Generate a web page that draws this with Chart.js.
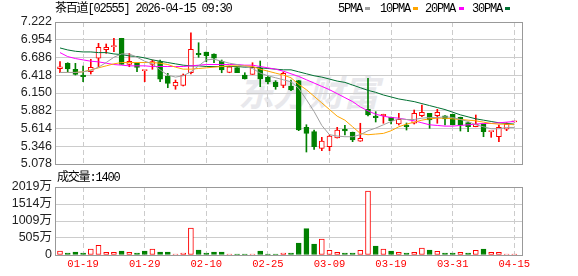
<!DOCTYPE html>
<html><head><meta charset="utf-8">
<script src="https://cdn.jsdelivr.net/npm/chart.js@4.4.1/dist/chart.umd.min.js"></script>
<style>
html,body{margin:0;padding:0;background:#fff;width:578px;height:276px;overflow:hidden;position:relative;}
canvas{position:absolute;left:0;top:0;}
.t{position:absolute;font-family:"Liberation Mono","Noto Sans CJK SC",monospace;font-size:12px;line-height:12px;letter-spacing:-1.2px;color:#000;white-space:nowrap;}
.sq{position:absolute;width:5px;height:3px;}
#wm{position:absolute;left:238px;top:70px;font-family:"Noto Sans CJK SC";font-weight:bold;font-size:36px;line-height:40px;color:#e8e8ec;font-style:italic;letter-spacing:-1px;white-space:nowrap;}
</style></head><body>
<div id="wm">东方财富</div>
<canvas id="p" width="578" height="276"></canvas>
<canvas id="v" width="578" height="276"></canvas>
<div class="t" style="left:55px;top:3px">茶百道[02555] 2026-04-15 09:30</div>
<div class="t" style="left:338px;top:3px">5PMA</div><div class="sq" style="left:365px;top:7px;background:#a0a0a0"></div>
<div class="t" style="left:380px;top:3px">10PMA</div><div class="sq" style="left:413px;top:7px;background:#ffa500"></div>
<div class="t" style="left:425px;top:3px">20PMA</div><div class="sq" style="left:459px;top:7px;background:#ff00ff"></div>
<div class="t" style="left:472px;top:3px">30PMA</div><div class="sq" style="left:505px;top:7px;background:#007032"></div>
<div class="t" style="left:57px;top:172px">成交量:1400</div>
<script>
const dates = ['01-14','01-15','01-16','01-19','01-20','01-21','01-22','01-23','01-26','01-27',
'01-28','01-29','01-30','02-02','02-03','02-04','02-05','02-06','02-09','02-10',
'02-11','02-12','02-13','02-16','02-20','02-23','02-24','02-25','02-26','02-27',
'03-02','03-03','03-04','03-05','03-06','03-09','03-10','03-11','03-12','03-13',
'03-16','03-17','03-18','03-19','03-20','03-23','03-24','03-25','03-26','03-27',
'03-30','03-31','04-01','04-02','04-08','04-09','04-10','04-13','04-14','04-15'];
const gridIdx = [3,11,19,27,35,43,51,59];
const priceTicks = [7.222,6.954,6.686,6.418,6.150,5.882,5.614,5.346,5.078];
const priceTickLabels = ['7.222','6.954','6.686','6.418','6.150','5.882','5.614','5.346','5.078'];
const volTicks = [2019,1514,1009,505,0];
const volTickLabels = ['2019万','1514万','1009万','505万','0'];

const open  = [6.517,6.598,6.508,6.422,6.472,6.674,6.804,6.849,6.976,6.583,
6.598,6.487,6.583,6.623,6.407,6.256,6.266,6.456,6.749,6.769,
6.739,6.629,6.462,6.532,6.422,6.432,6.523,6.387,6.316,6.266,
6.256,6.336,5.632,5.566,5.315,5.339,5.471,5.602,5.557,5.421,
5.904,5.803,5.807,5.783,5.682,5.667,5.693,5.807,5.843,5.807,
5.807,5.828,5.783,5.702,5.641,5.682,5.566,5.490,5.602,5.715];
const high  = [6.623,6.607,6.598,6.558,6.659,6.900,6.890,6.976,6.976,6.749,
6.598,6.489,6.648,6.648,6.447,6.346,6.437,7.060,6.909,6.769,
6.740,6.648,6.558,6.532,6.456,6.607,6.633,6.407,6.336,6.467,
6.346,6.340,5.671,5.591,5.481,5.516,5.632,5.662,5.560,5.693,
6.372,5.868,5.830,5.785,5.843,5.697,5.893,5.969,5.843,5.904,
5.810,5.830,5.785,5.703,5.818,5.683,5.571,5.667,5.702,5.722];
const low   = [6.456,6.472,6.422,6.321,6.437,6.547,6.749,6.774,6.583,6.547,
6.472,6.321,6.508,6.321,6.230,6.206,6.256,6.437,6.689,6.623,
6.607,6.456,6.456,6.456,6.361,6.432,6.245,6.286,6.206,6.230,
6.185,5.581,5.259,5.300,5.279,5.279,5.470,5.516,5.415,5.420,
5.803,5.712,5.693,5.682,5.667,5.591,5.682,5.792,5.617,5.693,
5.667,5.667,5.576,5.566,5.640,5.490,5.481,5.415,5.581,5.712];
const close = [6.547,6.512,6.432,6.396,6.538,6.840,6.840,6.860,6.583,6.629,
6.538,6.489,6.623,6.357,6.296,6.312,6.422,6.810,6.728,6.713,
6.674,6.497,6.547,6.456,6.361,6.538,6.361,6.316,6.245,6.447,
6.195,5.591,5.541,5.339,5.425,5.501,5.591,5.576,5.440,5.466,
5.818,5.777,5.828,5.732,5.753,5.641,5.843,5.858,5.742,5.858,
5.757,5.667,5.667,5.641,5.682,5.566,5.571,5.632,5.682,5.720];

const ma5  = [6.46,6.46,6.46,6.47,6.49,6.54,6.61,6.69,6.74,6.74,
6.69,6.63,6.59,6.50,6.42,6.39,6.41,6.47,6.56,6.65,
6.66,6.63,6.60,6.58,6.55,6.52,6.45,6.41,6.38,6.35,
6.32,6.22,6.05,5.87,5.66,5.52,5.50,5.49,5.49,5.52,
5.58,5.62,5.67,5.72,5.76,5.75,5.75,5.77,5.78,5.78,
5.79,5.78,5.75,5.72,5.67,5.64,5.61,5.61,5.63,5.63];
const ma10 = [6.46,6.46,6.46,6.47,6.50,6.53,6.56,6.59,6.61,6.61,
6.61,6.61,6.61,6.60,6.58,6.54,6.51,6.51,6.52,6.53,
6.54,6.55,6.56,6.56,6.56,6.55,6.51,6.48,6.45,6.42,
6.38,6.28,6.20,6.10,6.00,5.90,5.80,5.74,5.64,5.54,
5.52,5.53,5.54,5.58,5.64,5.68,5.71,5.74,5.76,5.77,
5.77,5.76,5.75,5.74,5.73,5.71,5.69,5.68,5.68,5.67];
const ma20 = [6.76,6.70,6.67,6.65,6.63,6.62,6.60,6.58,6.57,6.56,
6.56,6.56,6.55,6.55,6.55,6.55,6.55,6.56,6.57,6.58,
6.58,6.58,6.58,6.58,6.57,6.57,6.55,6.53,6.51,6.48,
6.44,6.40,6.35,6.30,6.25,6.20,6.14,6.08,6.02,5.94,
5.88,5.83,5.80,5.78,5.77,5.75,5.73,5.70,5.67,5.66,
5.65,5.65,5.66,5.67,5.68,5.69,5.69,5.70,5.71,5.72];
const ma30 = [6.83,6.80,6.78,6.77,6.77,6.76,6.76,6.74,6.73,6.71,
6.70,6.68,6.65,6.63,6.61,6.59,6.57,6.56,6.56,6.55,
6.55,6.55,6.55,6.55,6.54,6.54,6.53,6.52,6.51,6.50,
6.50,6.47,6.44,6.41,6.39,6.36,6.33,6.31,6.27,6.23,
6.19,6.16,6.12,6.09,6.06,6.04,6.02,5.99,5.96,5.93,
5.90,5.86,5.82,5.79,5.76,5.74,5.72,5.70,5.69,5.68];

const volume = [119,59,89,59,178,287,79,79,119,79,
59,119,178,89,89,30,59,802,148,59,
89,89,30,30,30,30,119,30,30,59,
59,356,781,327,475,139,79,59,59,139,
1900,267,178,119,79,59,79,208,148,109,
59,59,79,59,139,178,79,79,30,30];
const volUp = [1,0,0,0,1,1,1,1,0,1,
0,0,1,0,0,1,1,1,0,0,
0,0,1,0,0,1,0,0,0,1,
0,0,0,0,1,1,1,0,0,1,
1,0,1,0,1,0,1,1,0,1,
0,0,1,0,1,0,1,1,1,1];

const RED = '#ff0000', GREEN = '#008000', GRID = '#cccccc';
const X_MIN = -0.65, X_MAX = 60;

const framePlugin = { id:'frame', afterDraw(chart){
  const {ctx, chartArea:a} = chart;
  ctx.save(); ctx.strokeStyle = '#999999'; ctx.lineWidth = 1;
  ctx.strokeRect(a.left + 0.5, a.top + 0.5, a.right - a.left, a.bottom - a.top);
  ctx.restore();
}};

function xScale(showLabels){
  return {
    type:'linear', min:X_MIN, max:X_MAX, offset:false,
    afterBuildTicks: s => { s.ticks = gridIdx.map(v => ({value:v})); },
    afterFit: s => { s.height = showLabels ? 21 : 0; },
    grid:{ color:GRID, offset:false, drawTicks:false, lineWidth:1 },
    border:{ display:false, dash:[5,3] },
    ticks:{ display:showLabels, autoSkip:false, maxRotation:0, minRotation:0, padding:3, color:RED,
      font:{ family:'"Liberation Mono", monospace', size:10.5 }, callback: v => dates[v] }
  };
}
function yScale(min, max, ticks, labels){
  return {
    type:'linear', min:min, max:max, beginAtZero:false,
    afterBuildTicks: s => { s.ticks = ticks.map(v => ({value:v})); },
    afterFit: s => { s.width = 55; },
    grid:{ color:GRID, drawTicks:false, lineWidth:1 },
    border:{ display:false },
    ticks:{ autoSkip:false, padding:3, color:'#222222',
      font:{ family:'"Liberation Sans", Arial, "Noto Sans CJK SC"', size:12.5 },
      callback: (v, i) => labels[i] }
  };
}

const isUp = close.map((c, i) => c >= open[i]);
const pts = arr => arr.map((v, i) => ({x:i, y:v}));
const lineDs = (data, color) => ({ type:'line', data:pts(data), borderColor:color, borderWidth:1,
  pointRadius:0, tension:0, fill:false, order:0 });

new Chart(document.getElementById('p'), {
  type:'bar',
  data:{ datasets:[
    lineDs(ma5, '#a0a0a0'), lineDs(ma10, '#ffa500'), lineDs(ma20, '#ff00ff'), lineDs(ma30, '#007032'),
    { type:'bar', data: open.map((o, i) => ({x:i, y:[o, close[i]]})), grouped:false, order:1,
      barThickness:5, minBarLength:1, borderWidth:1, borderSkipped:false,
      backgroundColor: isUp.map(u => u ? '#ffffff' : GREEN), borderColor: isUp.map(u => u ? RED : GREEN) },
    { type:'bar', data: low.map((l, i) => ({x:i, y:[l, high[i]]})), grouped:false, order:2,
      barThickness:1, borderWidth:0, backgroundColor: isUp.map(u => u ? RED : GREEN) }
  ]},
  options:{
    responsive:false, animation:false, events:[],
    layout:{ padding:{ left:0, top:22, right:56, bottom:112 } },
    plugins:{ legend:{display:false}, tooltip:{enabled:false} },
    scales:{ x: xScale(false), y: yScale(5.078, 7.222, priceTicks, priceTickLabels) }
  },
  plugins:[framePlugin]
});

new Chart(document.getElementById('v'), {
  type:'bar',
  data:{ datasets:[
    { data: volume.map((v, i) => ({x:i, y:v})), grouped:false,
      barThickness:5, minBarLength:1, borderWidth:1, borderSkipped:false,
      backgroundColor: volUp.map(u => u ? '#ffffff' : GREEN), borderColor: volUp.map(u => u ? RED : GREEN) }
  ]},
  options:{
    responsive:false, animation:false, events:[],
    layout:{ padding:{ left:0, top:187, right:56, bottom:0 } },
    plugins:{ legend:{display:false}, tooltip:{enabled:false} },
    scales:{ x: xScale(true), y: yScale(0, 2019, volTicks, volTickLabels) }
  },
  plugins:[framePlugin]
});
</script>
</body></html>
